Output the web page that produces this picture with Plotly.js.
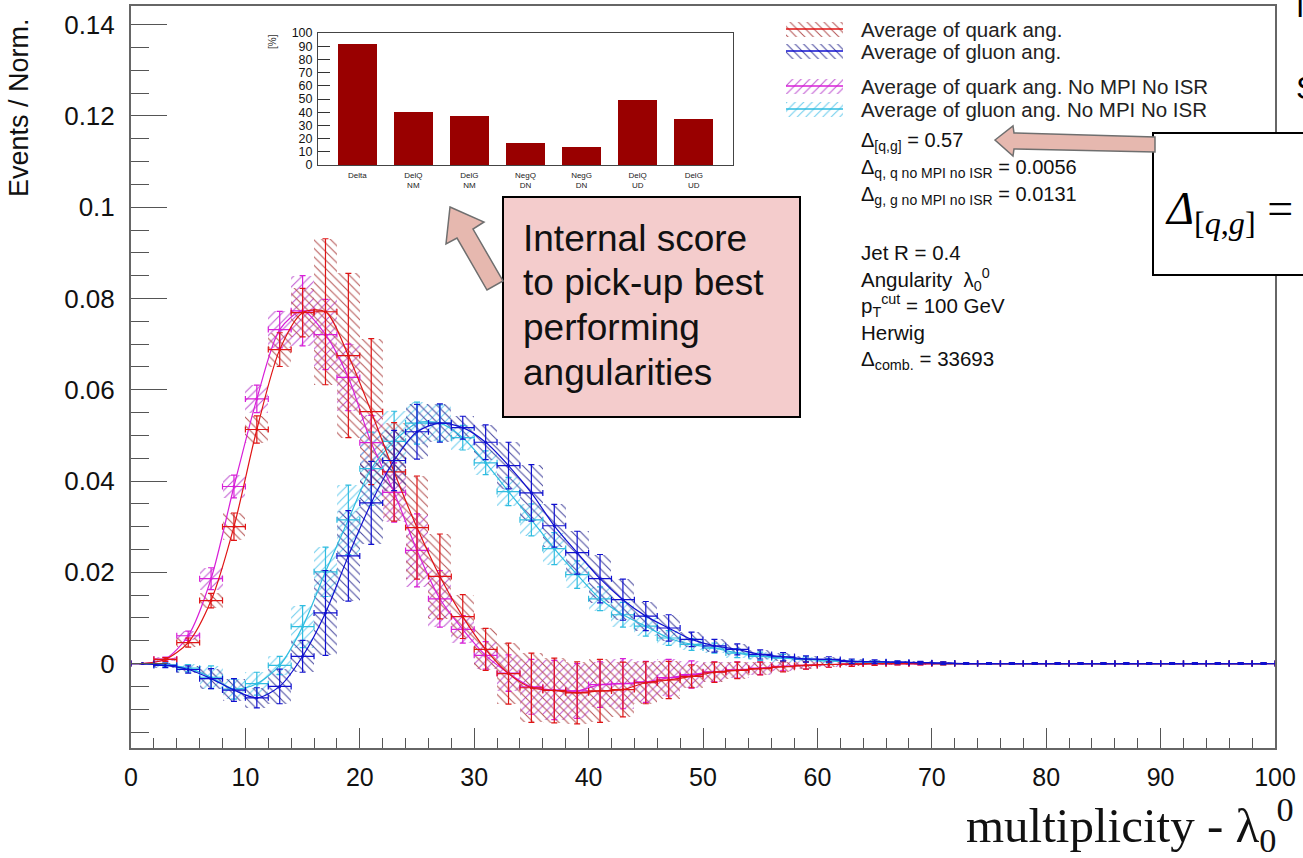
<!DOCTYPE html>
<html><head><meta charset="utf-8">
<script src="https://cdn.plot.ly/plotly-3.0.1.min.js"></script>
<style>html,body{margin:0;padding:0;background:#fff}#chart{width:1303px;height:858px}</style>
</head><body><div id="chart"></div>
<script>
// ---------------- DATA ----------------
const binCenters = [1,3,5,7,9,11,13,15,17,19,21,23,25,27,29,31,33,35,37,39,41,43,45,47,49,51,53,55,57,59,61,63,65,67,69,71,73,75,77,79,81,83,85,87,89,91,93,95,97,99];

const quarkAvg = [0,0.0009,0.0046,0.0138,0.0300,0.0513,0.0688,0.0769,0.0771,0.0675,0.0552,0.0420,0.0298,0.0191,0.0103,0.0031,-0.0022,-0.0053,-0.0059,-0.0064,-0.0060,-0.0057,-0.0042,-0.0036,-0.0028,-0.0019,-0.0015,-0.0011,-0.0007,-0.0004,-0.0002,-0.0001,0,0,0,0,0,0,0,0,0,0,0,0,0,0,0,0,0,0];
const quarkErr = [0,0.0004,0.0010,0.0016,0.0030,0.0030,0.0037,0.0053,0.0160,0.0180,0.0160,0.0108,0.0113,0.0093,0.0048,0.0046,0.0067,0.0076,0.0071,0.0068,0.0069,0.0060,0.0046,0.0041,0.0025,0.0022,0.0018,0.0014,0.0011,0.0008,0.0006,0.0005,0.0004,0.0003,0.0003,0.0003,0.0002,0.0002,0.0002,0.0002,0.0002,0.0002,0.0002,0.0002,0.0002,0.0002,0.0002,0.0002,0.0002,0.0002];

const gluonAvg = [0,-0.0004,-0.0013,-0.0033,-0.0058,-0.0075,-0.0050,0.0016,0.0111,0.0236,0.0352,0.0445,0.0508,0.0527,0.0517,0.0485,0.0434,0.0374,0.0302,0.0243,0.0186,0.0140,0.0104,0.0078,0.0053,0.0039,0.0031,0.0020,0.0015,0.0010,0.0009,0.0005,0.0004,0.0003,0.0002,0.0001,0,0,0,0,0,0,0,0,0,0,0,0,0,0];
const gluonErr = [0,0.0005,0.0008,0.0022,0.0025,0.0022,0.0038,0.0035,0.0093,0.0099,0.0091,0.0066,0.0060,0.0042,0.0025,0.0038,0.0051,0.0062,0.0047,0.0047,0.0053,0.0045,0.0032,0.0029,0.0016,0.0014,0.0012,0.0010,0.0009,0.0007,0.0006,0.0005,0.0004,0.0003,0.0003,0.0003,0.0002,0.0002,0.0002,0.0002,0.0002,0.0002,0.0002,0.0002,0.0002,0.0002,0.0002,0.0002,0.0002,0.0002];

const quarkNoMPI = [0,0.0010,0.0061,0.0186,0.0388,0.0580,0.0732,0.0773,0.0721,0.0627,0.0484,0.0375,0.0248,0.0142,0.0075,0.0018,-0.0021,-0.0051,-0.0058,-0.0060,-0.0046,-0.0044,-0.0040,-0.0031,-0.0024,-0.0018,-0.0014,-0.0010,-0.0006,-0.0004,-0.0002,-0.0001,0,0,0,0,0,0,0,0,0,0,0,0,0,0,0,0,0,0];
const quarkNoMPIErr = [0,0.0004,0.0010,0.0024,0.0025,0.0030,0.0040,0.0077,0.0077,0.0073,0.0060,0.0065,0.0080,0.0062,0.0030,0.0030,0.0040,0.0060,0.0065,0.0060,0.0050,0.0055,0.0045,0.0040,0.0030,0.0022,0.0018,0.0014,0.0010,0.0008,0.0006,0.0005,0.0004,0.0003,0.0003,0.0003,0.0002,0.0002,0.0002,0.0002,0.0002,0.0002,0.0002,0.0002,0.0002,0.0002,0.0002,0.0002,0.0002,0.0002];

const gluonNoMPI = [0,-0.0003,-0.0010,-0.0030,-0.0056,-0.0044,-0.0004,0.0081,0.0201,0.0315,0.0427,0.0487,0.0527,0.0527,0.0495,0.0440,0.0377,0.0315,0.0252,0.0195,0.0142,0.0107,0.0082,0.0056,0.0042,0.0034,0.0023,0.0016,0.0012,0.0009,0.0006,0.0004,0.0003,0.0002,0.0001,0,0,0,0,0,0,0,0,0,0,0,0,0,0,0];
const gluonNoMPIErr = [0,0.0004,0.0008,0.0025,0.0022,0.0025,0.0020,0.0046,0.0054,0.0076,0.0080,0.0066,0.0046,0.0040,0.0027,0.0026,0.0031,0.0035,0.0035,0.0030,0.0026,0.0027,0.0022,0.0016,0.0013,0.0011,0.0010,0.0009,0.0008,0.0006,0.0005,0.0004,0.0003,0.0003,0.0003,0.0003,0.0002,0.0002,0.0002,0.0002,0.0002,0.0002,0.0002,0.0002,0.0002,0.0002,0.0002,0.0002,0.0002,0.0002];

const seriesNames = ['Average of quark ang.','Average of gluon ang.','Average of quark ang. No MPI No ISR','Average of gluon ang. No MPI No ISR'];

const scoreLabels = ['Delta','DelQ<br>NM','DelG<br>NM','NegQ<br>DN','NegG<br>DN','DelQ<br>UD','DelG<br>UD'];
const scoreValues = [91.7,40.2,37.1,16.4,13.9,49.0,34.6];

const yTickVals = [0,0.02,0.04,0.06,0.08,0.1,0.12,0.14];
const yTickText = ['0','0.02','0.04','0.06','0.08','0.1','0.12','0.14'];

const boxLines = ['Internal score','to pick-up best','performing','angularities'];

// ---------------- STYLE ----------------
const SANS = 'Liberation Sans, Arial, Helvetica, sans-serif';
const SERIF = 'Liberation Serif, Times New Roman, serif';
const L=131, R=1275, T=6, B=748, W=R-L, H=B-T;
const px = x => (x-L)/W;
const py = y => (B-y)/H;
const CLEAR = 'rgba(0,0,0,0)';

const series = [
  {name:seriesNames[2], y:quarkNoMPI, e:quarkNoMPIErr, color:'#d81fd8', hatch:'/', hcol:'rgb(185,70,205)', row:86},
  {name:seriesNames[3], y:gluonNoMPI, e:gluonNoMPIErr, color:'#2fbde0', hatch:'/', hcol:'rgb(95,200,235)', row:109},
  {name:seriesNames[0], y:quarkAvg, e:quarkErr, color:'#e01414', hatch:'\\', hcol:'rgb(175,70,70)', row:29},
  {name:seriesNames[1], y:gluonAvg, e:gluonErr, color:'#1010d0', hatch:'\\', hcol:'rgb(55,55,150)', row:51}
];

function hatchMarker(s){
  return {color:CLEAR, line:{width:0},
    pattern:{shape:s.hatch, fgcolor:s.hcol, bgcolor:CLEAR, fgopacity:0.9, size:6, solidity:0.18, fillmode:'replace'}};
}

const traces = [];
series.forEach(s => {
  traces.push({type:'bar', x:binCenters, y:s.e.map(v=>2*v), base:s.y.map((v,i)=>v-s.e[i]), width:2,
    xaxis:'x', yaxis:'y', showlegend:false, hoverinfo:'skip', marker:hatchMarker(s)});
});
series.forEach(s => {
  traces.push({type:'scatter', mode:'lines+markers', x:binCenters, y:s.y, xaxis:'x', yaxis:'y', showlegend:false, hoverinfo:'skip',
    line:{color:s.color, width:1.2, shape:'spline', smoothing:0.8},
    marker:{size:3, color:s.color},
    error_y:{type:'data', array:s.e, visible:true, color:s.color, thickness:1.2, width:3},
    error_x:{type:'constant', value:1, visible:true, color:s.color, thickness:1.2, width:3}});
});
series.forEach(s => {
  traces.push({type:'bar', orientation:'h', y:[s.row], x:[1], base:[0], width:15, xaxis:'x2', yaxis:'y2', showlegend:false, hoverinfo:'skip',
    marker:hatchMarker(s)});
  traces.push({type:'scatter', mode:'lines', x:[0,1], y:[s.row,s.row], xaxis:'x2', yaxis:'y2', showlegend:false, hoverinfo:'skip',
    line:{color:s.color, width:1.3}});
});
traces.push({type:'bar', x:scoreLabels, y:scoreValues, width:0.69, xaxis:'x3', yaxis:'y3', showlegend:false, hoverinfo:'skip',
  marker:{color:'#990000', line:{width:0}}});

// ---------------- ANNOTATIONS ----------------
const ann = [];
function txt(text, x, y, size, opts) {
  ann.push(Object.assign({text:text, xref:'paper', yref:'paper', x:px(x), y:py(y), xanchor:'left', yanchor:'middle',
    showarrow:false, font:{family:SANS, size:size, color:'#111'}}, opts||{}));
}
series.forEach(s => txt(s.name, 859, s.row, 20.5, {font:{family:SANS,size:20.5,color:'#222'}}));
txt('Δ<sub>[q,g]</sub> = 0.57', 859, 141, 20);
txt('Δ<sub>q, q no MPI no ISR</sub> = 0.0056', 859, 168, 20);
txt('Δ<sub>g, g no MPI no ISR</sub> = 0.0131', 859, 195, 20);
txt('Jet R = 0.4', 859, 252, 20.5);
txt('Angularity  λ<sub>0</sub><sup>0</sup>', 859, 279, 20.5);
txt('p<sub>T</sub><sup>cut</sup> = 100 GeV', 859, 305, 20.5);
txt('Herwig', 859, 332, 20.5);
txt('Δ<sub>comb.</sub> = 33693', 859, 360, 20.5);
boxLines.forEach((t,i) => txt(t, 521, 238 + i*44.7, 37, {font:{family:SANS,size:37,color:'#111'}}));
txt('<i>Δ</i><sub>[<i>q</i>,<i>g</i>]</sub> =', 1163, 212, 46, {font:{family:SERIF,size:46,color:'#000'}});
txt('T', 1289, 6, 30, {font:{family:SANS,size:30,color:'#000'}});
txt('S', 1294, 88, 32, {font:{family:SANS,size:32,color:'#000'}});
ann.push({text:'Events / Norm.', xref:'paper', yref:'paper', x:px(19), y:py(108), xanchor:'center', yanchor:'middle', textangle:-90,
  showarrow:false, font:{family:SANS, size:27, color:'#111'}});
ann.push({text:'multiplicity - λ<sub>0</sub><sup>0</sup>', xref:'paper', yref:'paper', x:px(1296), y:py(824), xanchor:'right', yanchor:'middle',
  showarrow:false, font:{family:SERIF, size:49, color:'#111'}});
ann.push({text:'[%]', xref:'paper', yref:'paper', x:px(273), y:py(42), xanchor:'center', yanchor:'middle', textangle:-90,
  showarrow:false, font:{family:SANS, size:10, color:'#333'}});

// ---------------- SHAPES ----------------
function poly(pts){ return 'M' + pts.map(p => px(p[0]).toFixed(5)+','+py(p[1]).toFixed(5)).join(' L') + ' Z'; }
const shapes = [
  {type:'rect', xref:'paper', yref:'paper', x0:px(503), x1:px(800), y0:py(417), y1:py(197), fillcolor:'#f4cccc', line:{color:'#000', width:2}, layer:'above'},
  {type:'rect', xref:'paper', yref:'paper', x0:px(1153), x1:px(1340), y0:py(275), y1:py(133), fillcolor:'#ffffff', line:{color:'#000', width:2}, layer:'above'},
  {type:'path', xref:'paper', yref:'paper', path:poly([[450,207],[484,222],[473,229],[503,281],[487,290],[457,238],[446,244]]),
    fillcolor:'#e6b8af', line:{color:'#6f6f6f', width:1.5}, layer:'above'},
  {type:'path', xref:'paper', yref:'paper', path:poly([[995,140],[1013,126],[1014,133],[1155,137],[1155,152],[1014,149],[1013,156]]),
    fillcolor:'#e6b8af', line:{color:'#6f6f6f', width:1.5}, layer:'above'}
];

// ---------------- LAYOUT ----------------
const layout = {
  width:1303, height:858, margin:{l:L, r:1303-R, t:T, b:858-B, pad:0},
  paper_bgcolor:'#fff', plot_bgcolor:CLEAR, barmode:'overlay', bargap:0, showlegend:false,
  xaxis:{domain:[0,1], anchor:'y', range:[0,100], tickmode:'linear', tick0:0, dtick:10, ticks:'inside', ticklen:20, tickwidth:1, tickcolor:'#555',
    minor:{tick0:0, dtick:2, ticks:'inside', ticklen:10, tickwidth:1, tickcolor:'#555', showgrid:false},
    showline:true, linecolor:'#666', linewidth:2, mirror:true, showgrid:false, zeroline:false,
    tickfont:{family:SANS, size:25, color:'#111'}, ticklabelstandoff:6},
  yaxis:{domain:[0,1], anchor:'x', range:[-0.0185,0.1441], tickmode:'array', tickvals:yTickVals, ticktext:yTickText,
    ticks:'inside', ticklen:36, tickwidth:1, tickcolor:'#555',
    minor:{tick0:0, dtick:0.005, ticks:'inside', ticklen:18, tickwidth:1, tickcolor:'#555', showgrid:false},
    showline:true, linecolor:'#666', linewidth:2, mirror:true, showgrid:false, zeroline:false,
    tickfont:{family:SANS, size:26, color:'#111'}, ticklabelstandoff:9},
  xaxis2:{domain:[px(786),px(843)], anchor:'y2', range:[0,1], visible:false},
  yaxis2:{domain:[py(122),py(18)], anchor:'x2', range:[122,18], visible:false},
  xaxis3:{domain:[px(318),px(733)], anchor:'y3', type:'category', range:[-0.7,6.7], showline:true, mirror:true, linecolor:'#444', linewidth:1,
    ticks:'', showgrid:false, zeroline:false, tickfont:{family:SANS, size:8, color:'#222'}, ticklabelstandoff:2},
  yaxis3:{domain:[py(165),py(33)], anchor:'x3', range:[0,100], tickmode:'linear', tick0:0, dtick:10, ticks:'inside', ticklen:12, tickwidth:1, tickcolor:'#333',
    showline:true, mirror:true, linecolor:'#444', linewidth:1, showgrid:false, zeroline:false,
    tickfont:{family:SANS, size:12.5, color:'#111'}, ticklabelstandoff:2},
  annotations:ann, shapes:shapes
};

Plotly.newPlot('chart', traces, layout, {staticPlot:true, displayModeBar:false});
</script>
</body></html>
